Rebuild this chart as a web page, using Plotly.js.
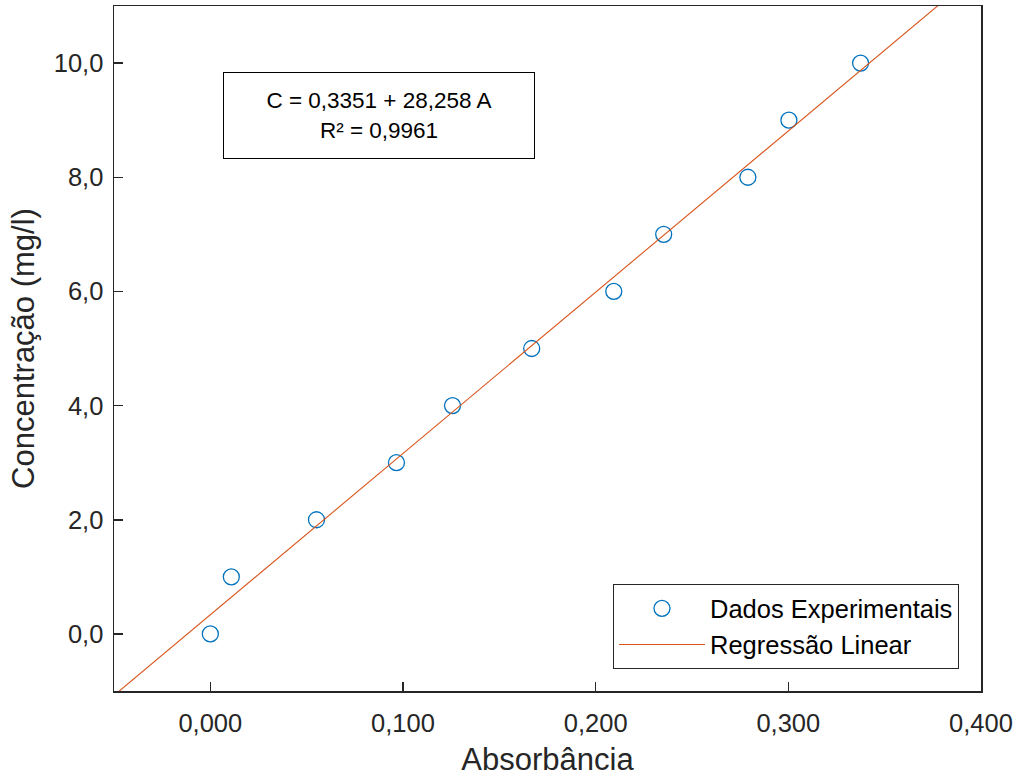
<!DOCTYPE html>
<html>
<head>
<meta charset="utf-8">
<script src="https://cdn.plot.ly/plotly-3.0.1.min.js"></script>
<style>html,body{margin:0;padding:0;background:#fff;}</style>
</head>
<body>
<div id="chart" style="width:1017px;height:777px;"></div>
<script>
const absorbancia = [0.000, 0.0109, 0.0551, 0.0966, 0.1257, 0.1668, 0.2094, 0.2353, 0.2790, 0.3003, 0.3375];
const concentracao = [0, 1, 2, 3, 4, 5, 6, 7, 8, 9, 10];

// Regression coefficients stated on the chart
const intercept = 0.3351;
const slope = 28.258;
const r2 = 0.9961;
const lineX = [-0.05, 0.4];
const lineY = lineX.map(a => intercept + slope * a);

const xTickVals = [0, 0.1, 0.2, 0.3, 0.4];
const xTickText = ['0,000', '0,100', '0,200', '0,300', '0,400'];
const yTickVals = [0, 2, 4, 6, 8, 10];
const yTickText = ['0,0', '2,0', '4,0', '6,0', '8,0', '10,0'];

const FONT = 'Liberation Sans, Arial, sans-serif';
const TXT = '#262626';

const traces = [
  {
    x: absorbancia, y: concentracao, type: 'scatter', mode: 'markers',
    name: 'Dados Experimentais',
    marker: {symbol: 'circle-open', size: 16, color: '#0072BD', line: {width: 1.3, color: '#0072BD'}}
  },
  {
    x: lineX, y: lineY, type: 'scatter', mode: 'lines',
    name: 'Regressão Linear',
    line: {color: '#D95319', width: 1.1}
  }
];

const layout = {
  width: 1017, height: 777,
  margin: {l: 114, r: 36, t: 6, b: 86},
  paper_bgcolor: '#fff', plot_bgcolor: '#fff',
  font: {family: FONT, color: TXT},
  showlegend: true,
  xaxis: {
    range: [-0.05, 0.4], tickvals: xTickVals, ticktext: xTickText,
    ticks: 'inside', ticklen: 9, tickwidth: 1.5, tickcolor: '#262626',
    showline: true, linecolor: '#262626', linewidth: 1.5, mirror: true,
    showgrid: false, zeroline: false,
    tickfont: {family: FONT, size: 25.5, color: TXT}, ticklabelstandoff: 9,
    title: {text: 'Absorbância', font: {family: FONT, size: 31, color: TXT}, standoff: 12}
  },
  yaxis: {
    range: [-1, 11], tickvals: yTickVals, ticktext: yTickText,
    ticks: 'inside', ticklen: 9, tickwidth: 1.5, tickcolor: '#262626',
    showline: true, linecolor: '#262626', linewidth: 1.5, mirror: true,
    showgrid: false, zeroline: false,
    tickfont: {family: FONT, size: 25.5, color: TXT}, ticklabelstandoff: 4,
    title: {text: 'Concentração (mg/l)', font: {family: FONT, size: 31, color: TXT}, standoff: 10}
  },
  legend: {
    x: 0.9746, y: 0.0317, xanchor: 'right', yanchor: 'bottom',
    bgcolor: '#fff', bordercolor: '#262626', borderwidth: 1,
    font: {family: FONT, size: 25.5, color: '#000'}, tracegroupgap: 0,
    itemwidth: 86
  },
  annotations: [{
    xref: 'x', yref: 'y', x: 0.0875, y: 9.09,
    text: 'C = ' + intercept.toFixed(4).replace('.', ',') + ' + ' + slope.toFixed(3).replace('.', ',') + ' A<br>R² = ' + r2.toFixed(4).replace('.', ','),
    showarrow: false, align: 'center',
    font: {family: FONT, size: 22.5, color: '#000'},
    bordercolor: '#000', borderwidth: 1, borderpad: 0,
    width: 310, height: 85, bgcolor: '#fff'
  }]
};

Plotly.newPlot('chart', traces, layout, {displayModeBar: false, staticPlot: true});
</script>
</body>
</html>
